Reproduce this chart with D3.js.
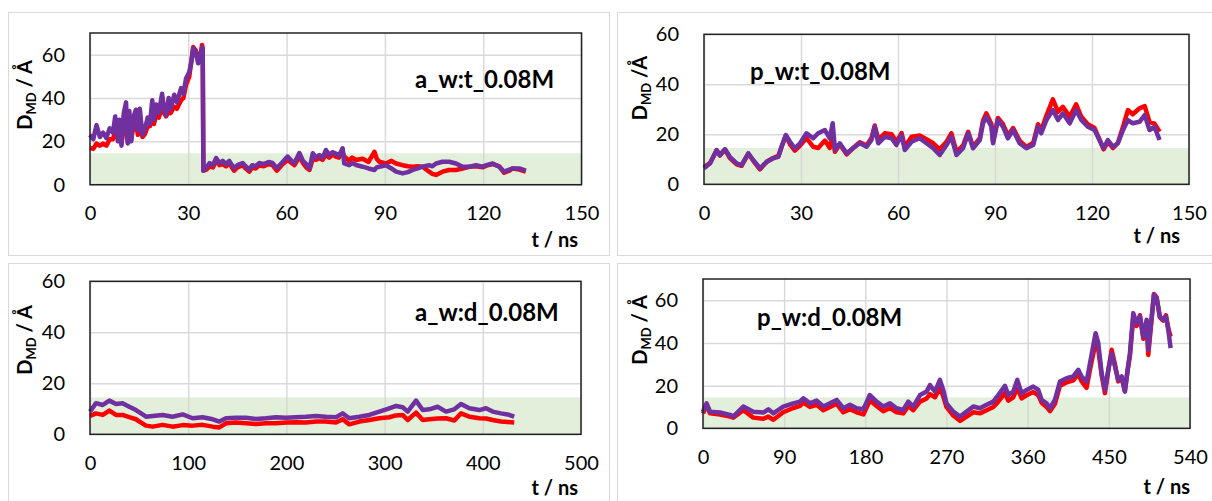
<!DOCTYPE html>
<html>
<head>
<meta charset="utf-8">
<script src="https://cdn.jsdelivr.net/npm/d3@7"></script>
<style>
  html, body { margin: 0; padding: 0; background: #fff; }
  svg { display: block; font-family: Lato, "Liberation Sans", sans-serif; }
</style>
</head>
<body>
<svg id="chart" width="1212" height="501"></svg>
<script>
// ---- a_w:t_0.08M ----
const timeAwt = [0,1,2,3,4,5,6,7,7.7,8.5,9,9.6,10.3,11,11.5,12,12.6,13.2,14,14.6,15.2,16,16.8,17.6,18.3,19,19.5,20.2,21,22,22.6,23.2,24,24.6,25.7,26.5,27.8,28.5,29.3,30.3,31,31.5,32.3,33,33.5,34.2,34.4,34.6,35.5,36.5,37.5,38.5,39.5,40.5,41.5,42.5,43.3,44,45,46.6,47.5,48.6,49.5,50.5,51.7,53,54.5,55.7,57,58.5,60.3,61.5,62.4,63.9,65,66,67,68,69,70,71,72,73,74,75,76,77.1,77.6,79.1,80,81.2,83.2,85,86.8,87.5,88.3,90.3,92,93.4,95.4,97,98.5,100,101.5,103.5,104.5,105.6,107.6,109.6,111.7,113.7,115.8,117.8,119.8,121,122.9,124.9,126.4,128,129,131,133];
const purpleAwt = [23,21,27.5,22,24,21.5,26,24,31.5,20,30,18,33,38,19,34,20,31,34.6,25,35,23,26,31,28,39,30,37,33,42,35,32,40,35,41.5,38,44.6,42,49,52,57,63,61,56,58,63.5,62,6.5,8,10,9,12.3,10,11,9.5,11,9,7.7,9,10,8.5,7,9,8.5,10,9.5,10.5,10,7.7,10,13,11,10,14.6,11,9.5,7.5,14.5,12.5,13.7,12.5,16,13.7,15,14.4,13.5,16.8,9.8,9,10,9.1,8.3,7.5,6.8,8,8.3,9,7.5,6,5.2,5.8,6.8,7.5,8.3,9,8.5,9.8,10.6,10.6,9.8,8.3,8.3,9,8.3,9,9.8,8.3,6,7,7.5,7.5,6.5];
const redAwt = [17,16.5,19,18,19,18,21,21,25,21,23,19,26,32,20,28,21,27,29,23,30,22,23.5,27,27,33,28,32,31,36,33,31.5,34,33,36,35,39,40,46,50,58,63.5,62,58,57,64.5,63,6.5,7,8.5,8,11,9,9.5,8.5,10,8,6.5,8,9,7.5,6,8,7.5,9,8.5,9.5,9,6.5,9,11.5,10,9,13,10,8,6.8,12,11.5,12.5,11.5,14,12.5,14,13,12.5,15,13,11,12.5,11.4,12,10.5,15.2,12,10.6,9.8,11,9.8,9,8.5,8.3,8.5,8.3,6,5,4.5,6,6.8,6.8,7.5,8.3,8.5,8,8.8,9.5,8.5,5.5,6.5,7.5,7,6];

// ---- p_w:t_0.08M ----
const timePwt = [0,1.9,3.9,4.9,6.5,8,10.1,11.6,13.7,15.2,17.3,19.4,21.4,23,24,25.3,26.6,28.1,29.7,31.7,33.8,35.3,37.4,38.9,39.8,40.5,42,44.1,46.1,48.2,50.3,51.8,52.8,53.9,55.9,58,59.5,61.1,62.1,64.2,66.7,68.8,70.9,72.9,75,76.5,78.1,80.1,81.7,83.2,85.3,86.3,87.3,88.9,89.4,90.9,92.5,94,95.6,97.6,99.7,101.8,103.3,104.3,105.9,107.9,109.5,111,113.1,115.1,116.7,118.7,120.8,122.3,123.6,124.9,126.5,128,129.6,131.1,132.6,134.7,136.3,137.8,139.3,140.9];
const purplePwt = [6.4,8.4,13.7,11.7,14,11,8.4,7.7,12.4,9.7,6.4,9,10.4,11,15,19.7,17,14.4,16.4,20.4,18.4,20.4,21.7,18.4,24.4,13.7,16.4,12.4,14.4,16.4,15,17.7,23,16.4,19,18.4,15.7,19.7,13.7,17,18.4,16.4,14.4,11.7,15.7,19,11.7,14.4,20.4,14.4,17.7,24.4,27,23,16.4,25.7,23,18.4,21.7,16.4,14.4,15.7,23,20.4,25.7,29.7,25.7,28.4,24.4,29.7,25.7,23,21.7,17.7,14.4,17.7,15,16.4,21.7,25.7,24.4,25,27.7,21.7,23,17.7];
const redPwt = [6.8,8.6,13.5,11.5,14,10.5,8,7.4,12.2,9.5,6,9,10.5,11.4,15,19.5,16,13.5,15.5,18.5,15,14.5,17.5,14.5,20,13,16,12,14.5,16.8,15.5,18.5,23.5,18,20.4,20,17,20.5,15,19,19.5,18,16.4,14,17,20.4,13,15.5,21,15,18.5,25.5,28.4,24,17,26.5,24,19.5,22.5,17.5,15,16.5,24,21.5,27.5,34,29,31,27,32,27,24,22.5,18,14,17,14.5,16.5,23,29.7,28,30.4,31.3,25,24.3,21];

// ---- a_w:d_0.08M ----
const timeAwd = [0,6,13,19.7,26.5,33,40,46.8,52,57,63.8,74,84,94.4,104.5,114.7,125,131.7,138.5,148.7,158.9,169,179.2,189.4,199.6,209.8,220,230,240,250.5,257.3,264,274.3,284.5,294.6,304.8,311.6,318.4,323.5,332,338.8,345.5,354,362.5,371,377.8,386.3,396.5,403.3,410,418.5,425.3,432];
const purpleAwd = [8.9,12.2,11.5,13.2,11.9,12.2,10.8,9.5,8.2,6.9,7.2,7.6,6.9,7.8,6.3,6.7,5.9,5,6.3,6.5,6.5,6,6.3,6.7,6.5,6.7,6.9,7.2,6.9,6.7,8.2,6.3,6.9,7.6,8.9,10.2,11.1,10.6,8.9,13.2,9.5,9.8,10.8,8.9,9.8,11.9,10.2,9.5,10.2,8.9,8.2,7.8,6.9];
const redAwd = [7.2,8.2,7.6,9.3,7.6,7.6,6.7,5.9,4.6,3.4,3,3.7,3,3.6,3.4,3.7,3,2.7,4.3,4.6,4.3,4,4.3,4.3,4.6,4.7,4.6,5,5,4.6,5.9,3.9,5,5.6,6.3,6.7,7.4,7.6,5.6,8.5,5.6,5.9,6.2,6.3,5.4,8.2,6.9,6.3,6.2,5.6,5,4.8,4.6];

// ---- p_w:d_0.08M ----
const timePwd = [0,4,7.8,18.8,30,33.6,44.7,55.8,66.9,72.4,78,89,100,107.5,111.2,118.6,126,133.4,140.8,148.2,155.6,163,170.4,177.8,185,192.5,200,207.3,214.7,222,227.6,233.2,240.6,248,251.7,257.2,262.7,266.4,270,277.5,285,292.3,299.7,307,314.5,321.9,327.4,334.8,338.5,344,348.5,353.3,358.8,366.2,371.8,375.5,381,384.7,390.2,395.8,403.2,410.6,416.1,419.8,425.3,429.8,435.3,438.3,442,445.7,449.4,453.1,456.8,460.4,464.1,467.8,470.8,473.4,477.1,480.8,484.5,488.2,491.9,493.7,497.4,500,503,506.6,510.3,513.3,515.9,518.5];
const purplePwd = [7.8,11.7,7.8,7.4,6.3,5.5,10.2,7.8,7.4,8.9,7,10.2,11.7,12.5,14.1,11.7,13,10.2,11.7,13.3,9.4,11,9.4,8.9,15.6,12.5,10.2,11.7,9.4,8.6,12.5,10.2,15.6,17.2,20.3,17.2,22.7,18,11.7,7.8,5.5,7.8,10.2,9.4,11,12.5,15.6,19.9,15.6,17.2,22.7,16.4,18,19.6,18,13.3,11.7,9.4,13.3,21.9,23.5,24.3,27.4,24.3,21.9,32.1,44.6,39.9,25.8,18,27.4,35.2,29,22.7,24.3,17.2,27.4,35.2,54,49.3,52.4,43,50.9,36.8,51.6,62.6,61,52.4,50.9,52.4,46.2,37.6];
const redPwd = [7,11,7,6.5,5.5,5,8.5,5,4.5,5.5,4,7.5,9.5,10.5,12,10,11,8.5,10,11.5,7.5,9,7.5,6.5,13,10.5,8,9.5,7.5,7,10.5,8.5,12.5,14,16,14.5,19,15,10,6,3.5,5.5,7.5,7,8.5,10,12.5,16.5,13,14.5,19,14,15.5,17,15.5,12,10,8,11.5,20,21.5,22.5,25.5,22,19,29,40,37,25,16.5,27,36.8,30,22,24,17.5,27,34,52,48,53,42,50,34.4,51,63,61.5,52,50.5,53,47,43];

// Axis ticks and titles
const xTicksAwt = [0,30,60,90,120,150];
const xTicksPwt = [0,30,60,90,120,150];
const xTicksAwd = [0,100,200,300,400,500];
const xTicksPwd = [0,90,180,270,360,450,540];
const yTicks = [0,20,40,60];
const panelNames = ["a_w:t_0.08M", "p_w:t_0.08M", "a_w:d_0.08M", "p_w:d_0.08M"];
const bandTop = 14.5;   // shaded reference range 0..bandTop

const RED = "#ff0000", PURPLE = "#7030a0";

const svg = d3.select("#chart");

const panels = [
  { box: [8, 12, 601, 243], plot: [90, 33, 581.5, 184.7], xMax: 150, yMax: 70, xTicks: xTicksAwt,
    t: timeAwt, red: redAwt, purple: purpleAwt, name: panelNames[0], nameX: 415, nameY: 80,
    yTitle: " / Å", yTitleX: 25, yTitleY: 95, xTitleX: 578, xTitleY: 240 },
  { box: [617, 12, 600, 243], plot: [704, 34.3, 1189, 184.3], xMax: 150, yMax: 60, xTicks: xTicksPwt,
    t: timePwt, red: redPwt, purple: purplePwt, name: panelNames[1], nameX: 750, nameY: 72,
    yTitle: " /Å", yTitleX: 640, yTitleY: 88, xTitleX: 1180, xTitleY: 236 },
  { box: [8, 263, 601, 245], plot: [90, 281.3, 581, 434.3], xMax: 500, yMax: 60, xTicks: xTicksAwd,
    t: timeAwd, red: redAwd, purple: purpleAwd, name: panelNames[2], nameX: 415, nameY: 313,
    yTitle: " / Å", yTitleX: 25, yTitleY: 340, xTitleX: 578, xTitleY: 488 },
  { box: [617, 263, 600, 245], plot: [703, 279, 1190, 428.3], xMax: 540, yMax: 70, xTicks: xTicksPwd,
    t: timePwd, red: redPwd, purple: purplePwd, name: panelNames[3], nameX: 757, nameY: 318,
    yTitle: " / Å", yTitleX: 640, yTitleY: 330, xTitleX: 1190, xTitleY: 487 }
];

panels.forEach(p => {
  const [bx, by, bw, bh] = p.box;
  const [x0, y0, x1, y1] = p.plot;

  // outer chart frame
  svg.append("rect").attr("x", bx + 0.5).attr("y", by + 0.5).attr("width", bw).attr("height", bh)
    .attr("fill", "#fff").attr("stroke", "#d9d9d9").attr("stroke-width", 1);

  const x = d3.scaleLinear().domain([0, p.xMax]).range([x0, x1]);
  const y = d3.scaleLinear().domain([0, p.yMax]).range([y1, y0]);

  const g = svg.append("g");

  // shaded band
  g.append("rect").attr("x", x(0)).attr("y", y(bandTop))
    .attr("width", x(p.xMax) - x(0)).attr("height", y(0) - y(bandTop))
    .attr("fill", "#e2efda");

  // gridlines
  g.append("g").attr("transform", `translate(0,${y1})`)
    .call(d3.axisBottom(x).tickValues(p.xTicks).tickSize(-(y1 - y0)).tickFormat(""))
    .call(a => a.select(".domain").remove())
    .call(a => a.selectAll("line").attr("stroke", "#d4d4d4").attr("stroke-width", 1.5).attr("opacity", 0.85));
  g.append("g").attr("transform", `translate(${x0},0)`)
    .call(d3.axisLeft(y).tickValues(yTicks).tickSize(-(x1 - x0)).tickFormat(""))
    .call(a => a.select(".domain").remove())
    .call(a => a.selectAll("line").attr("stroke", "#d9d9d9").attr("stroke-width", 1.5));

  // tick labels
  g.append("g").attr("transform", `translate(0,${y1 + 18})`)
    .call(d3.axisBottom(x).tickValues(p.xTicks).tickSize(0).tickFormat(d3.format("d")))
    .call(a => a.select(".domain").remove())
    .call(a => a.selectAll("text").attr("font-size", 20).attr("fill", "#000")
      .attr("font-family", "Lato, sans-serif"));
  g.append("g").attr("transform", `translate(${x0 - 22},0)`)
    .call(d3.axisLeft(y).tickValues(yTicks).tickSize(0).tickFormat(d3.format("d")))
    .call(a => a.select(".domain").remove())
    .call(a => a.selectAll("text").attr("font-size", 20).attr("fill", "#000")
      .attr("font-family", "Lato, sans-serif").attr("dx", 0));

  // series
  const line = d3.line().x(d => x(d[0])).y(d => y(d[1]));
  const redPts = p.t.map((t, i) => [t, p.red[i]]);
  const purplePts = p.t.map((t, i) => [t, p.purple[i]]);
  g.append("path").datum(redPts).attr("d", line).attr("fill", "none")
    .attr("stroke", RED).attr("stroke-width", 4.5).attr("stroke-linejoin", "round");
  g.append("path").datum(purplePts).attr("d", line).attr("fill", "none")
    .attr("stroke", PURPLE).attr("stroke-width", 4.5).attr("stroke-linejoin", "round");

  // plot frame
  g.append("rect").attr("x", x0).attr("y", y0).attr("width", x1 - x0).attr("height", y1 - y0)
    .attr("fill", "none").attr("stroke", "#222").attr("stroke-width", 1.5);

  // panel name
  g.append("text").attr("x", p.nameX).attr("y", p.nameY).attr("dy", "0.35em")
    .attr("font-size", 24).attr("font-weight", 700).attr("fill", "#000").text(p.name);

  // x title
  g.append("text").attr("x", p.xTitleX).attr("y", p.xTitleY).attr("dy", "0.35em")
    .attr("text-anchor", "end").attr("font-size", 20).attr("font-weight", 700).attr("fill", "#000")
    .text("t / ns");

  // y title
  const yt = g.append("text").attr("transform", `translate(${p.yTitleX},${p.yTitleY}) rotate(-90)`)
    .attr("text-anchor", "middle").attr("dy", "0.35em")
    .attr("font-size", 20).attr("font-weight", 700).attr("fill", "#000");
  yt.append("tspan").text("D");
  yt.append("tspan").attr("font-size", 13).attr("dy", 4).text("MD");
  yt.append("tspan").attr("dy", -4).text(p.yTitle);
});
</script>
</body>
</html>
